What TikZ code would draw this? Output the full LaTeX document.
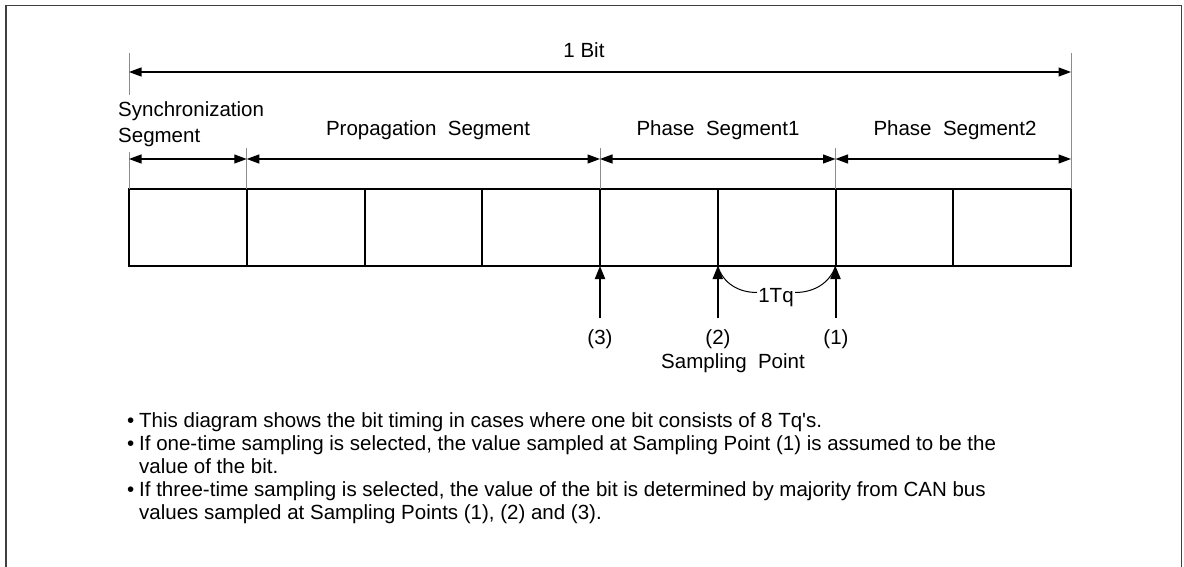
\documentclass[tikz,border=0pt]{standalone}
\usepackage{fontspec}
\setmainfont{Liberation Sans}
\usetikzlibrary{arrows.meta}
\tikzset{
  lbl/.style={inner sep=0pt, font=\fontsize{20.5}{23}\selectfont, anchor=base},
  lblw/.style={lbl, anchor=base west},
  guide/.style={draw=black!45, line width=1pt},
  cellline/.style={draw=black, line width=2pt},
  dimarrow/.style={draw=black, line width=1.3pt, {Triangle[length=12.5pt,width=9pt]}-{Triangle[length=12.5pt,width=9pt]}},
  samparrow/.style={draw=black, line width=2pt, -{Triangle[length=13pt,width=10pt]}},
  tqcurve/.style={draw=black, line width=1pt},
  outerframe/.style={draw=black!75, line width=1.5pt},
}
\begin{document}
\begin{tikzpicture}[x=1pt,y=-1pt]
\useasboundingbox (0,0) rectangle (1184,567);
% outer frame (bottom edge outside the picture)
\coordinate (fbl) at (6,575);
\coordinate (ftl) at (6,5.5);
\coordinate (ftr) at (1181.5,5.5);
\coordinate (fbr) at (1181.5,575);
\draw[outerframe] (fbl) -- (ftl) -- (ftr) -- (fbr);

% cell boundaries
\foreach \i in {0,...,8} {
  \coordinate (t\i) at ({129+117.75*\i},189);
  \coordinate (b\i) at ({129+117.75*\i},266);
}
\draw[cellline] (t0) rectangle (b8);
\foreach \i in {1,...,7} { \draw[cellline] (t\i) -- (b\i); }

% guide lines
\coordinate (g0) at (129,53);
\coordinate (g0a) at (129,95);
\coordinate (g0b) at (129,152);
\coordinate (g8) at (1071,53);
\coordinate (g1) at (246.75,148);
\coordinate (g4) at (600,148);
\coordinate (g6) at (835.5,148);
\draw[guide] (g0) -- (g0a);
\draw[guide] (g0b) -- (t0);
\draw[guide] (g8) -- (t8);
\draw[guide] (g1) -- (t1);
\draw[guide] (g4) -- (t4);
\draw[guide] (g6) -- (t6);

% 1 bit arrow
\coordinate (bitL) at (129,72);
\coordinate (bitR) at (1071,72);
\draw[dimarrow] (bitL) -- (bitR);
\node[lbl] (bit) at (584,58) {1 Bit};

% segment arrows
\coordinate (s0) at (129,159);
\coordinate (s1) at (246.75,159);
\coordinate (s4) at (600,159);
\coordinate (s6) at (835.5,159);
\coordinate (s8) at (1071,159);
\draw[dimarrow] (s0) -- (s1);
\draw[dimarrow] (s1) -- (s4);
\draw[dimarrow] (s4) -- (s6);
\draw[dimarrow] (s6) -- (s8);

\node[lblw] (sync1) at (118,117) {Synchronization};
\node[lblw] (sync2) at (118,143) {Segment};
\node[lbl] (prop) at (428,136) {Propagation\ \ Segment};
\node[lbl] (ph1) at (718,136) {Phase\ \ Segment1};
\node[lbl] (ph2) at (955,136) {Phase\ \ Segment2};

% sampling point arrows
\coordinate (p3) at (600,318);
\coordinate (p2) at (717.75,318);
\coordinate (p1) at (835.5,318);
\draw[samparrow] (p3) -- (b4);
\draw[samparrow] (p2) -- (b5);
\draw[samparrow] (p1) -- (b6);
\node[lbl] (l3) at (600,344) {(3)};
\node[lbl] (l2) at (718,344) {(2)};
\node[lbl] (l1) at (836,344) {(1)};
\node[lbl] (sp) at (733,368) {Sampling\ \ Point};

% 1Tq
\node[lbl] (tq) at (776,302) {1Tq};
\coordinate (tqL) at (757,292.5);
\coordinate (tqR) at (795,292.5);
\draw[tqcurve] (b5) .. controls (723,283) and (738,292.5) .. (tqL);
\draw[tqcurve] (tqR) .. controls (814,292.5) and (830,283) .. (b6);

% notes
\foreach \y/\n in {427/n1, 450/n2, 496/n4} {
  \node[lblw] (bul\n) at (127,\y) {\textbullet};
}
\node[lblw] (n1) at (139,427) {This diagram shows the bit timing in cases where one bit consists of 8 Tq\textquotesingle s.};
\node[lblw] (n2) at (139,450) {If one-time sampling is selected, the value sampled at Sampling Point (1) is assumed to be the};
\node[lblw] (n3) at (139,473) {value of the bit.};
\node[lblw] (n4) at (139,496) {If three-time sampling is selected, the value of the bit is determined by majority from CAN bus};
\node[lblw] (n5) at (139,519) {values sampled at Sampling Points (1), (2) and (3).};
\end{tikzpicture}
\end{document}
